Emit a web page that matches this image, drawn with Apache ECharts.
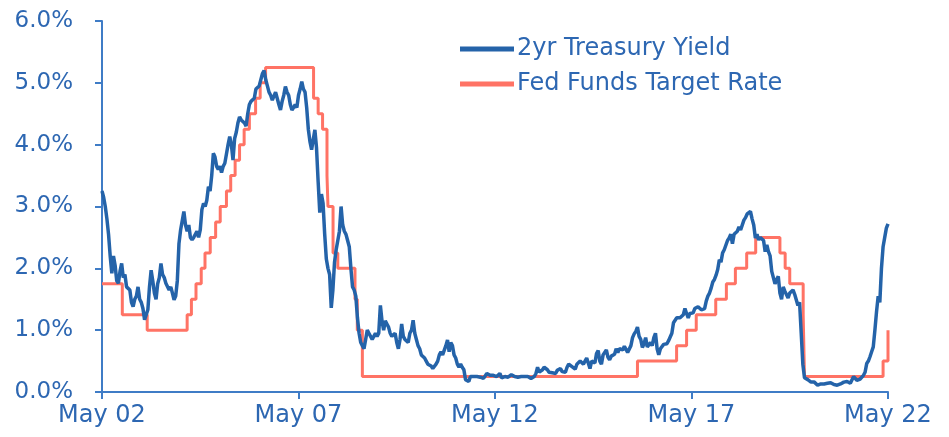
<!DOCTYPE html>
<html>
<head>
<meta charset="utf-8">
<script src="https://cdn.jsdelivr.net/npm/echarts@6/dist/echarts.min.js"></script>
<style>
  html, body { margin: 0; padding: 0; background: #ffffff; }
  #chart { width: 949px; height: 437px; }
</style>
</head>
<body>
<div id="chart"></div>
<script>
// x positions are months since May 2002; axis ticks every 5 years
const tickLabels = ["May 02", "May 07", "May 12", "May 17", "May 22"];
const yTickLabels = ["0.0%", "1.0%", "2.0%", "3.0%", "4.0%", "5.0%", "6.0%"];

// 2yr Treasury yield, sampled twice a month from May 2002 (step = 0.5 month)
const treasuryYield = [
  // 2002 May-Dec
  3.25, 3.15, 3.0, 2.8, 2.55, 2.2, 1.92, 2.2, 2.05, 1.8, 1.76, 1.95, 2.08, 1.85, 1.9, 1.7,
  // 2003
  1.7, 1.65, 1.45, 1.38, 1.5, 1.55, 1.7, 1.5, 1.45, 1.35, 1.17, 1.2, 1.33, 1.7, 1.97, 1.8,
  1.6, 1.5, 1.75, 1.85, 2.08, 1.9, 1.85, 1.76,
  // 2004
  1.75, 1.65, 1.7, 1.6, 1.49, 1.55, 1.8, 2.4, 2.62, 2.65, 2.92, 2.7, 2.6, 2.7, 2.5, 2.46,
  2.5, 2.55, 2.6, 2.5, 2.62, 2.95, 3.05, 3.0,
  // 2005
  3.1, 3.32, 3.25, 3.5, 3.86, 3.8, 3.65, 3.6, 3.65, 3.55, 3.65, 3.7, 3.85, 4.0, 4.13, 4.0,
  3.75, 4.1, 4.2, 4.35, 4.45, 4.4, 4.4, 4.35,
  // 2006
  4.3, 4.5, 4.65, 4.7, 4.72, 4.75, 4.9, 4.9, 4.95, 4.95, 5.15, 5.2, 5.05, 4.95, 4.85, 4.8,
  4.72, 4.7, 4.85, 4.75, 4.65, 4.56, 4.7, 4.8,
  // 2007
  4.94, 4.85, 4.8, 4.65, 4.56, 4.6, 4.65, 4.6, 4.8, 4.9, 5.02, 4.9, 4.85, 4.6, 4.25, 4.05,
  3.92, 3.95, 4.24, 3.95, 3.4, 2.9, 3.2, 3.05,
  // 2008
  2.55, 2.15, 2.0, 1.9, 1.36, 1.65, 2.1, 2.3, 2.45, 2.6, 3.0, 2.7, 2.6, 2.55, 2.45, 2.35,
  2.0, 1.7, 1.65, 1.55, 1.2, 0.95, 0.8, 0.75,
  // 2009
  0.7, 0.85, 1.0, 0.95, 0.95, 0.85, 0.9, 0.95, 0.9, 0.95, 1.4, 1.15, 1.0, 1.15, 1.1, 1.05,
  0.95, 0.9, 0.9, 0.95, 0.8, 0.7, 0.85, 1.1,
  // 2010
  0.9, 0.85, 0.85, 0.8, 0.95, 1.0, 1.16, 0.95, 0.85, 0.75, 0.7, 0.6, 0.6, 0.55, 0.5, 0.45,
  0.45, 0.42, 0.38, 0.35, 0.45, 0.5, 0.6, 0.65,
  // 2011
  0.6, 0.6, 0.75, 0.84, 0.65, 0.8, 0.75, 0.6, 0.55, 0.45, 0.4, 0.45, 0.4, 0.36, 0.2, 0.2,
  0.17, 0.25, 0.28, 0.25, 0.24, 0.25, 0.25, 0.24,
  // 2012
  0.25, 0.22, 0.23, 0.3, 0.33, 0.27, 0.25, 0.27, 0.28, 0.25, 0.22, 0.3, 0.23, 0.22, 0.25, 0.27,
  0.24, 0.23, 0.28, 0.27, 0.25, 0.26, 0.24, 0.25,
  // 2013
  0.25, 0.27, 0.25, 0.24, 0.25, 0.24, 0.22, 0.23, 0.25, 0.3, 0.4, 0.32, 0.32, 0.36, 0.4, 0.4,
  0.36, 0.32, 0.34, 0.31, 0.28, 0.3, 0.35, 0.38,
  // 2014
  0.38, 0.33, 0.33, 0.32, 0.4, 0.45, 0.42, 0.41, 0.4, 0.37, 0.45, 0.47, 0.5, 0.53, 0.45, 0.48,
  0.55, 0.58, 0.38, 0.5, 0.5, 0.47, 0.62, 0.67,
  // 2015
  0.5, 0.45, 0.6, 0.62, 0.68, 0.56, 0.52, 0.58, 0.6, 0.61, 0.7, 0.64, 0.7, 0.67, 0.68, 0.74,
  0.72, 0.64, 0.62, 0.75, 0.88, 0.94, 0.98, 1.05,
  // 2016
  0.9, 0.85, 0.72, 0.78, 0.88, 0.73, 0.72, 0.8, 0.75, 0.88, 0.95, 0.7, 0.6, 0.7, 0.73, 0.77,
  0.8, 0.78, 0.83, 0.85, 0.95, 1.12, 1.15, 1.2,
  // 2017
  1.2, 1.2, 1.2, 1.25, 1.35, 1.27, 1.2, 1.27, 1.3, 1.28, 1.35, 1.38, 1.38, 1.36, 1.33, 1.3,
  1.35, 1.47, 1.55, 1.6, 1.68, 1.78, 1.82, 1.89,
  // 2018
  1.98, 2.14, 2.1, 2.25, 2.3, 2.27, 2.45, 2.49, 2.55, 2.4, 2.55, 2.53, 2.6, 2.67, 2.62, 2.63,
  2.78, 2.82, 2.88, 2.87, 2.92, 2.8, 2.7, 2.49,
  // 2019
  2.55, 2.46, 2.5, 2.52, 2.45, 2.27, 2.38, 2.27, 2.2, 1.95, 1.85, 1.75, 1.82, 1.87, 1.6, 1.5,
  1.7, 1.63, 1.6, 1.52, 1.6, 1.61, 1.65, 1.58,
  // 2020
  1.57, 1.4, 1.45, 0.95, 0.45, 0.23, 0.22, 0.2, 0.17, 0.16, 0.19, 0.16, 0.15, 0.11, 0.14, 0.13,
  0.14, 0.13, 0.15, 0.14, 0.16, 0.15, 0.13, 0.12,
  // 2021
  0.12, 0.11, 0.12, 0.13, 0.15, 0.16, 0.16, 0.17, 0.15, 0.14, 0.16, 0.25, 0.22, 0.19, 0.22, 0.21,
  0.22, 0.27, 0.32, 0.46, 0.5, 0.57, 0.65, 0.73,
  // 2022 Jan-May
  1.0, 1.3, 1.55, 1.45, 2.0, 2.35, 2.5, 2.65, 2.72
];

// Fed funds target: month (since May 2002) of each change, and the new rate
const fedChangeMonths = [0, 6.2, 13.8, 26, 27.3, 28.7, 30.3, 31.45, 33.05, 34.7, 36.1, 38, 39.3,
  40.65, 42, 43.4, 45, 46.9, 48.3, 49.95, 64.6, 66, 67.35, 68.7, 69, 70.55, 72, 77.25, 77.95,
  79.5, 163.5, 175.45, 178.5, 181.45, 187.4, 190.65, 193.4, 196.85, 199.6, 207, 208.6, 210,
  214.1, 214.5, 238.5, 240];
const fedRates = [1.75, 1.25, 1.0, 1.25, 1.5, 1.75, 2.0, 2.25, 2.5, 2.75, 3.0, 3.25, 3.5,
  3.75, 4.0, 4.25, 4.5, 4.75, 5.0, 5.25, 4.75, 4.5, 4.25, 3.5, 3.0, 2.25, 2.0, 1.5, 1.0,
  0.25, 0.5, 0.75, 1.0, 1.25, 1.5, 1.75, 2.0, 2.25, 2.5, 2.25, 2.0, 1.75,
  1.25, 0.25, 0.5, 1.0];

const BLUE_TEXT = "#2d67b2";
const AXIS_BLUE = "#3f7cc6";
const FONT = "'DejaVu Sans', sans-serif";

const chart = echarts.init(document.getElementById("chart"));

const yieldData = treasuryYield.map((v, i) => [i * 0.5, v]);
const fedData = fedChangeMonths.map((m, i) => [m, fedRates[i]]);

chart.setOption({
  animation: false,
  textStyle: { fontFamily: FONT },
  grid: { left: 102, right: 61, top: 21, bottom: 45 },
  legend: {
    orient: "vertical",
    left: 455,
    top: 30,
    itemWidth: 54,
    itemHeight: 5,
    itemGap: 7,
    icon: "rect",
    textStyle: { color: BLUE_TEXT, fontSize: 24, fontFamily: FONT, lineHeight: 28, padding: [0, 0, 0, -2] },
    data: ["2yr Treasury Yield", "Fed Funds Target Rate"]
  },
  xAxis: {
    type: "value",
    min: 0,
    max: 240,
    interval: 60,
    axisLine: { show: true, lineStyle: { color: AXIS_BLUE, width: 2 } },
    axisTick: { show: true, length: 7, lineStyle: { color: AXIS_BLUE, width: 2 } },
    splitLine: { show: false },
    axisLabel: {
      color: BLUE_TEXT,
      fontSize: 24,
      margin: 12,
      fontFamily: FONT,
      formatter: (v) => tickLabels[Math.round(v / 60)]
    }
  },
  yAxis: {
    type: "value",
    min: 0,
    max: 6,
    interval: 1,
    axisLine: { show: true, lineStyle: { color: AXIS_BLUE, width: 2 } },
    axisTick: { show: true, length: 7, lineStyle: { color: AXIS_BLUE, width: 2 } },
    splitLine: { show: false },
    axisLabel: {
      color: BLUE_TEXT,
      fontSize: 23,
      margin: 29,
      fontFamily: FONT,
      formatter: (v) => yTickLabels[Math.round(v)]
    }
  },
  series: [
    {
      name: "2yr Treasury Yield",
      type: "line",
      data: yieldData,
      showSymbol: false,
      color: "#2463a9",
      lineStyle: { color: "#2463a9", width: 3.5 },
      z: 3
    },
    {
      name: "Fed Funds Target Rate",
      type: "line",
      step: "end",
      data: fedData,
      showSymbol: false,
      color: "#ff7365",
      lineStyle: { color: "#ff7365", width: 3 },
      z: 2
    }
  ]
});
</script>
</body>
</html>
